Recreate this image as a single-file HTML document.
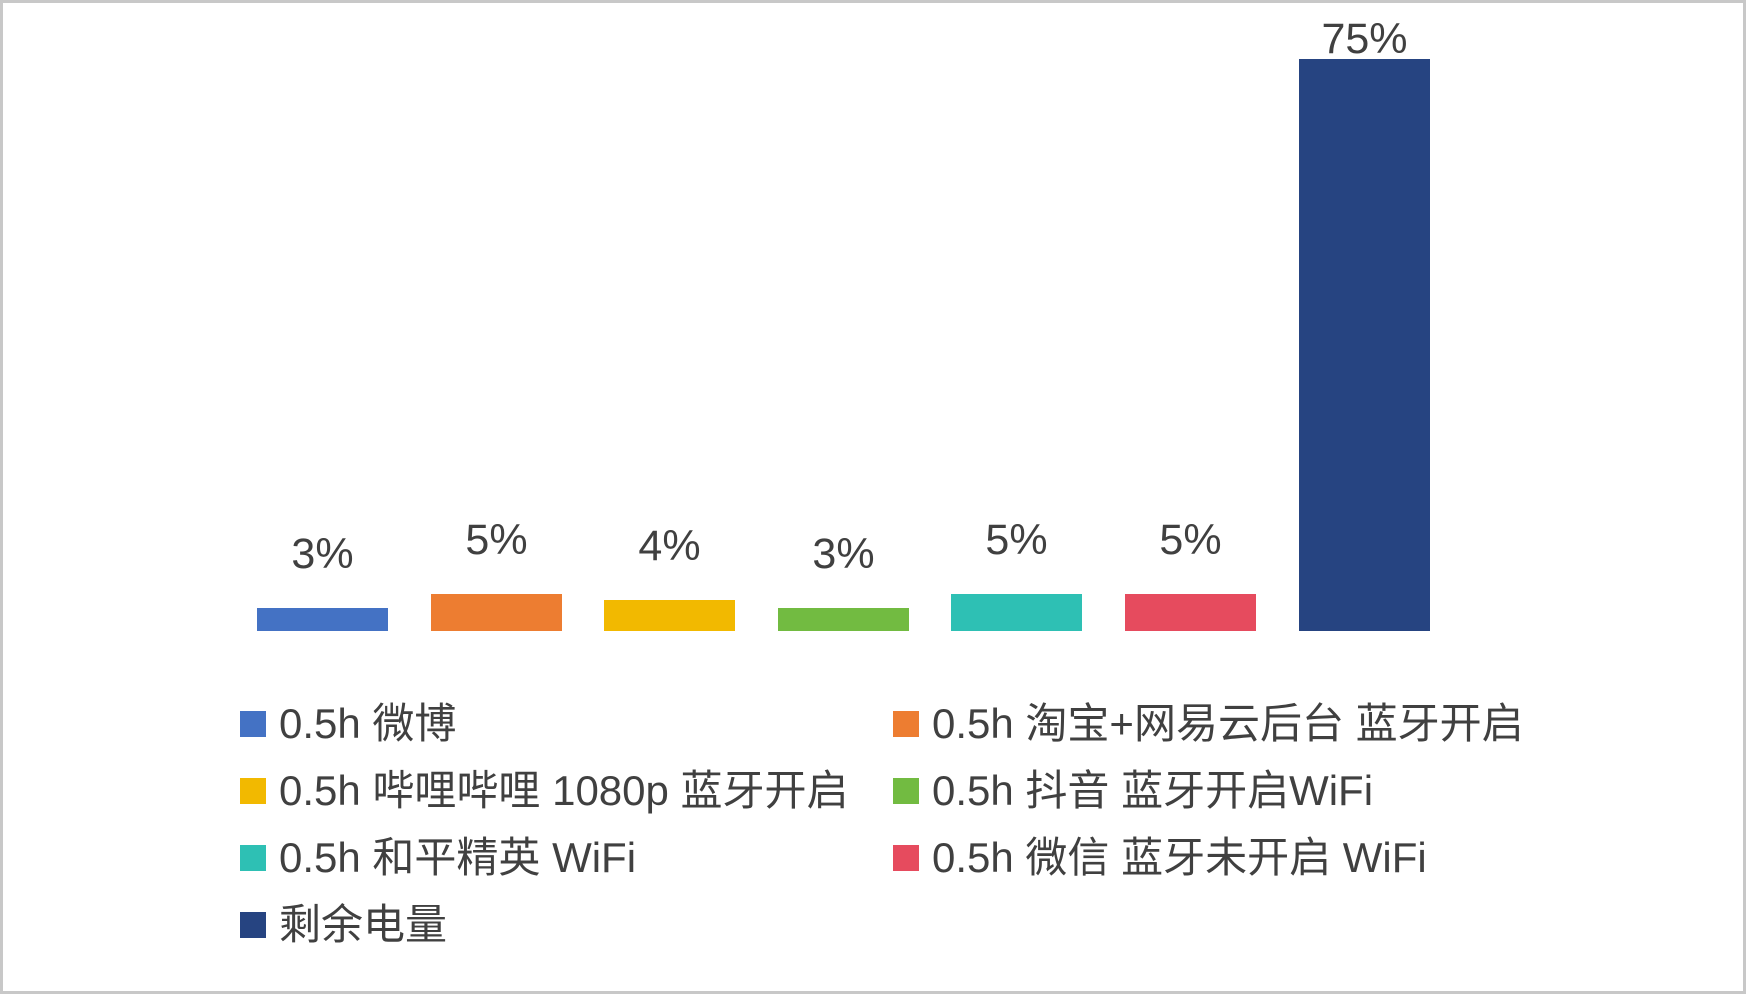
<!DOCTYPE html>
<html><head><meta charset="utf-8"><style>
body{margin:0;width:1746px;height:994px;background:#fff;overflow:hidden;font-family:"Liberation Sans","Noto Sans CJK SC",sans-serif;color:#404040}
.frame{position:absolute;left:0;top:0;width:1740px;height:988px;border:3px solid #c8c8c8}
.b{position:absolute;width:131px}
.l{position:absolute;width:131px;text-align:center;font-size:43px;line-height:43px}
.sq{position:absolute;width:26px;height:26px}
.t{position:absolute;font-size:42px;line-height:50px;white-space:nowrap}
</style></head><body>
<div class="frame"></div>
<div class="b" style="left:257px;top:608px;height:23px;background:#4472c4"></div>
<div class="b" style="left:431px;top:594px;height:37px;background:#ed7d31"></div>
<div class="b" style="left:604px;top:600px;height:31px;background:#f2b900"></div>
<div class="b" style="left:778px;top:608px;height:23px;background:#72bb41"></div>
<div class="b" style="left:951px;top:594px;height:37px;background:#2ec0b4"></div>
<div class="b" style="left:1125px;top:594px;height:37px;background:#e64b5e"></div>
<div class="b" style="left:1299px;top:59px;height:572px;background:#264481"></div>
<div class="l" style="left:257px;top:533px">3%</div>
<div class="l" style="left:431px;top:519px">5%</div>
<div class="l" style="left:604px;top:525px">4%</div>
<div class="l" style="left:778px;top:533px">3%</div>
<div class="l" style="left:951px;top:519px">5%</div>
<div class="l" style="left:1125px;top:519px">5%</div>
<div class="l" style="left:1299px;top:18px">75%</div>
<div class="sq" style="left:240px;top:711px;background:#4472c4"></div><div class="t" style="left:279px;top:699px">0.5h 微博</div>
<div class="sq" style="left:893px;top:711px;background:#ed7d31"></div><div class="t" style="left:932px;top:699px">0.5h 淘宝+网易云后台 蓝牙开启</div>
<div class="sq" style="left:240px;top:778px;background:#f2b900"></div><div class="t" style="left:279px;top:766px">0.5h 哔哩哔哩 1080p 蓝牙开启</div>
<div class="sq" style="left:893px;top:778px;background:#72bb41"></div><div class="t" style="left:932px;top:766px">0.5h 抖音 蓝牙开启WiFi</div>
<div class="sq" style="left:240px;top:845px;background:#2ec0b4"></div><div class="t" style="left:279px;top:833px">0.5h 和平精英 WiFi</div>
<div class="sq" style="left:893px;top:845px;background:#e64b5e"></div><div class="t" style="left:932px;top:833px">0.5h 微信 蓝牙未开启 WiFi</div>
<div class="sq" style="left:240px;top:912px;background:#264481"></div><div class="t" style="left:279px;top:900px">剩余电量</div>
</body></html>
